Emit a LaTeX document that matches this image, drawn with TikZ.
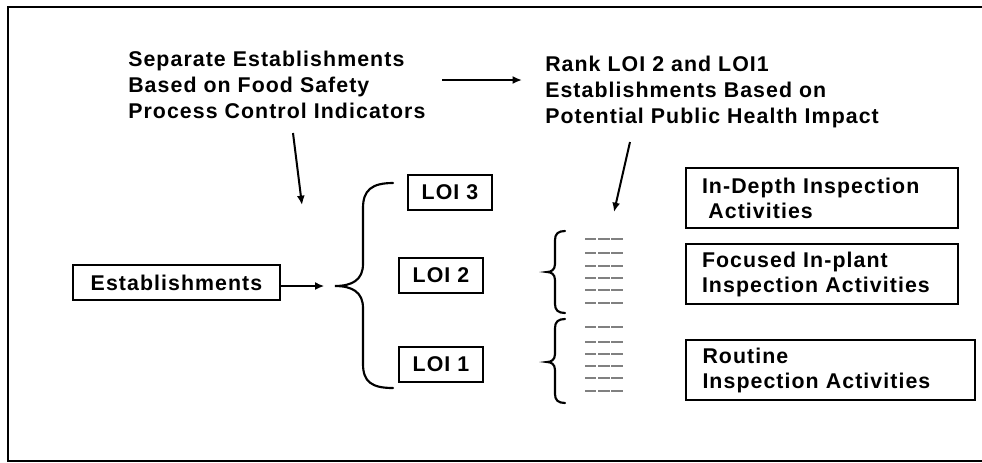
\documentclass[tikz,border=0pt]{standalone}
\usepackage{fontspec}
\setmainfont{Liberation Sans}[LetterSpace=5]
\usetikzlibrary{arrows.meta}
\begin{document}
\begin{tikzpicture}[x=0.75pt,y=-0.75pt,
  txt/.style={font=\fontsize{16}{19.5}\selectfont\bfseries, inner sep=0pt, align=left, anchor=base west},
  lbox/.style={draw, line width=1.6pt, font=\fontsize{16}{19.5}\selectfont\bfseries, inner sep=0pt},
  abox/.style={draw, line width=1.6pt, font=\fontsize{16}{18.75}\selectfont\bfseries, inner xsep=11pt, inner ysep=0pt, align=left},
  arr/.style={line width=1.5pt, -{Latex[length=7pt,width=6pt]}},
  brace/.style={line width=1.6pt, line cap=round},
  tick/.style={draw=gray, line width=1pt, dash pattern=on 8.6pt off 1.2pt}
]
\useasboundingbox (0,0) rectangle (982,462);
% outer frame (open on the right)
\draw[line width=1.6pt] (982,7) -- (8,7) -- (8,461) -- (982,461);

% headings (anchored at the baseline of their last line)
\node[txt] (sep) at (128,118) {Separate Establishments\\Based on Food Safety\\Process Control Indicators};
\node[txt] (rank) at (545,123) {Rank LOI 2 and LOI1\\Establishments Based on\\Potential Public Health Impact};

\coordinate (h1) at (442,80);
\coordinate (h2) at (522,80);
\draw[arr] (h1) -- (h2);

\coordinate (v1a) at (293,133);
\coordinate (v1b) at (302,205);
\draw[arr] (v1a) -- (v1b);

\coordinate (v2a) at (630,142);
\coordinate (v2b) at (614,212);
\draw[arr] (v2a) -- (v2b);

% establishments and the three levels
\node[lbox, minimum width=155.25pt, minimum height=26.25pt] (est) at (176.5,282.5) {Establishments};
\coordinate (bigtip) at (335,286);
\draw[arr] (est.east |- bigtip) -- ([xshift=-8]bigtip);

\draw[brace] (393,183) .. controls (372,183) and (363,190) .. (363,208) -- (363,264)
  .. controls (363,280) and (352,286) .. (bigtip)
  .. controls (352,286) and (363,292) .. (363,308) -- (363,364)
  .. controls (363,382) and (372,388) .. (393,388);

\node[lbox, minimum width=63pt, minimum height=26.25pt] (loi3) at (450,192.5) {LOI 3};
\node[lbox, minimum width=63pt, minimum height=26.25pt] (loi2) at (441,275.5) {LOI 2};
\node[lbox, minimum width=63pt, minimum height=26.25pt] (loi1) at (441,364.5) {LOI 1};

% ranking braces
\draw[brace] (565,231) .. controls (558,231) and (555,234) .. (555,240) -- (555,264)
  .. controls (555,270) and (551,272) .. (547,272)
  .. controls (551,272) and (555,274) .. (555,280) -- (555,304)
  .. controls (555,310) and (558,313) .. (565,313);
\draw[brace] (565,319) .. controls (558,319) and (555,322) .. (555,328) -- (555,354)
  .. controls (555,360) and (551,362) .. (547,362)
  .. controls (551,362) and (555,364) .. (555,370) -- (555,394)
  .. controls (555,400) and (558,403) .. (565,403);

% ranked establishments
\foreach \y in {239,253,266,278,290,303,327,342,354,366,378,391}
  \draw[tick] (585,\y) -- (624,\y);

% inspection activities
\node[abox, minimum width=204pt, minimum height=45pt, text width=180pt] (deep) at (822,198)
  {In-Depth Inspection\\\hspace*{0.3em}Activities};
\node[abox, minimum width=204pt, minimum height=45pt, text width=180pt] (focus) at (822,274)
  {Focused In-plant\\Inspection Activities};
\node[abox, minimum width=216.75pt, minimum height=45pt, text width=192pt] (routine) at (830.5,370)
  {Routine\\Inspection Activities};
\end{tikzpicture}
\end{document}
